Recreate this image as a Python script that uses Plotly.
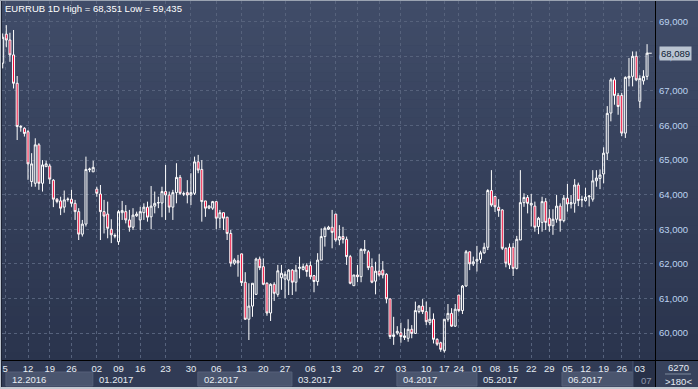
import plotly.graph_objects as go

# ---------------- data ----------------
opens = [67.80, 68.64, 68.47, 68.04, 67.22, 65.95, 65.92, 65.82, 64.38, 64.33,
         65.44, 64.33, 64.81, 64.83, 64.42, 63.87, 63.82, 63.64, 63.86, 63.87,
         63.75, 63.51, 62.86, 63.15, 64.72, 64.66, 64.16, 64.02, 63.51, 63.44,
         63.00, 62.80, 62.64, 63.48, 63.51, 63.27, 63.06, 63.39, 63.27, 63.48,
         63.64, 63.36, 63.67, 63.76, 63.76, 64.09, 63.99, 63.64, 64.06, 64.50,
         64.03, 64.06, 63.99, 64.04, 64.95, 64.73, 63.82, 63.61, 63.61, 63.80,
         63.32, 63.48, 63.35, 62.88, 62.02, 62.09, 62.29, 61.47, 60.40, 60.78,
         61.12, 62.14, 61.92, 61.44, 60.58, 61.41, 61.12, 61.60, 61.56, 61.53,
         61.82, 61.47, 61.87, 61.84, 61.95, 61.95, 61.66, 61.49, 62.11, 62.79,
         63.00, 63.06, 63.44, 62.69, 62.79, 62.71, 62.21, 61.37, 61.68, 61.63,
         62.38, 62.35, 61.92, 61.50, 61.79, 61.82, 61.70, 60.99, 59.90, 60.00,
         60.01, 59.87, 59.85, 60.11, 59.99, 60.62, 60.78, 60.62, 60.30, 60.40,
         59.82, 59.72, 59.49, 60.40, 60.57, 60.20, 61.10, 60.65, 61.36, 62.35,
         62.00, 62.08, 62.13, 62.32, 62.48, 64.12, 63.95, 63.64, 63.56, 62.45,
         62.48, 62.48, 61.87, 62.69, 63.77, 63.92, 63.70, 63.67, 63.08, 63.20,
         63.80, 63.32, 63.10, 63.29, 63.67, 63.25, 63.90, 63.73, 63.75, 64.28,
         63.86, 63.83, 63.94, 63.87, 64.40, 64.47, 64.60, 65.20, 66.36, 67.32,
         66.87, 66.87, 65.78, 67.37, 67.42, 68.00, 66.70, 67.29, 67.42]
highs = [68.66, 68.90, 68.68, 68.76, 67.43, 66.01, 65.95, 65.87, 65.20, 65.63,
         65.49, 65.00, 64.98, 64.89, 64.45, 63.90, 63.94, 64.12, 63.92, 64.14,
         63.85, 63.61, 63.27, 65.10, 64.78, 64.98, 64.23, 64.28, 63.85, 63.80,
         63.29, 62.88, 63.56, 63.82, 63.70, 63.56, 63.61, 63.51, 63.65, 63.75,
         63.80, 64.25, 64.09, 63.94, 64.23, 64.86, 64.09, 64.14, 64.91, 64.57,
         64.09, 64.42, 64.62, 65.10, 65.15, 65.00, 63.82, 63.70, 63.82, 63.80,
         63.56, 63.48, 63.36, 62.98, 62.16, 62.26, 62.29, 61.76, 61.44, 61.44,
         62.18, 62.21, 62.16, 61.47, 61.44, 61.47, 61.97, 61.97, 61.78, 61.85,
         61.85, 61.97, 62.21, 62.00, 62.02, 62.07, 61.68, 62.31, 63.03, 63.08,
         63.10, 63.56, 63.44, 63.12, 63.07, 62.79, 62.26, 61.68, 61.97, 62.45,
         62.69, 62.40, 62.16, 62.06, 62.28, 62.08, 61.73, 60.99, 60.47, 60.20,
         60.30, 60.14, 60.40, 60.23, 60.91, 60.81, 60.98, 60.91, 60.75, 60.57,
         59.85, 59.75, 60.40, 60.84, 60.72, 60.84, 61.10, 61.39, 62.40, 62.35,
         62.21, 62.52, 62.38, 62.61, 64.16, 64.71, 63.95, 63.87, 63.58, 62.48,
         62.59, 62.60, 62.81, 64.71, 64.04, 63.99, 64.02, 63.80, 63.36, 63.94,
         63.90, 63.58, 63.58, 63.99, 63.75, 63.99, 64.31, 63.99, 64.45, 64.35,
         63.97, 64.20, 63.99, 64.71, 64.71, 64.73, 65.37, 66.56, 67.37, 67.39,
         66.94, 66.94, 67.42, 67.95, 68.14, 68.14, 67.45, 67.60, 68.351]
lows = [67.65, 68.26, 67.84, 67.07, 65.58, 65.82, 65.68, 64.43, 64.23, 64.23,
        64.14, 64.09, 64.81, 64.31, 63.64, 63.75, 63.41, 63.48, 63.80, 63.65,
        63.27, 62.69, 62.79, 63.08, 64.65, 64.66, 63.94, 62.69, 62.88, 62.74,
        62.60, 62.74, 62.55, 63.27, 63.17, 62.93, 62.98, 63.36, 62.98, 63.27,
        63.22, 63.00, 63.46, 63.61, 63.35, 63.27, 63.48, 63.27, 63.75, 63.99,
        63.96, 63.75, 63.70, 63.99, 64.62, 63.22, 63.36, 63.58, 63.56, 63.00,
        63.03, 62.98, 62.69, 61.92, 61.97, 61.63, 61.36, 60.38, 59.80, 60.47,
        61.10, 61.82, 61.39, 60.50, 60.35, 60.93, 61.05, 61.25, 61.01, 61.10,
        61.10, 61.20, 61.58, 61.81, 61.63, 61.56, 61.18, 61.37, 62.11, 62.50,
        62.98, 62.45, 62.64, 62.54, 62.59, 61.97, 61.41, 61.37, 61.47, 61.47,
        62.29, 61.82, 61.44, 61.12, 61.63, 61.58, 60.86, 59.83, 59.66, 59.95,
        59.72, 59.80, 59.75, 59.85, 59.99, 60.57, 60.55, 60.23, 60.23, 59.70,
        59.63, 59.46, 59.435, 60.33, 60.18, 60.18, 60.60, 60.55, 61.34, 61.82,
        61.94, 61.78, 62.02, 62.29, 62.40, 63.65, 63.50, 63.36, 62.40, 61.90,
        61.85, 61.65, 61.84, 62.69, 63.65, 63.46, 63.08, 62.93, 62.86, 62.93,
        62.98, 62.93, 62.84, 63.19, 62.93, 63.20, 63.51, 63.60, 63.48, 63.67,
        63.64, 63.80, 63.66, 63.80, 64.23, 64.16, 64.33, 65.00, 66.12, 66.60,
        66.31, 65.69, 65.64, 67.13, 67.13, 67.28, 66.50, 67.18, 67.32]
closes = [68.55, 68.47, 68.04, 67.22, 65.97, 65.97, 65.77, 64.89, 64.89, 65.44,
          64.33, 64.86, 64.89, 64.45, 63.87, 63.80, 63.61, 63.85, 63.87, 63.75,
          63.51, 62.86, 63.15, 64.73, 64.74, 64.79, 64.04, 63.51, 63.38, 63.03,
          62.84, 62.82, 63.51, 63.54, 63.27, 63.06, 63.41, 63.44, 63.51, 63.64,
          63.35, 63.67, 63.75, 63.77, 64.09, 63.99, 63.64, 64.06, 64.50, 64.04,
          64.02, 63.99, 64.06, 64.95, 64.71, 63.80, 63.61, 63.67, 63.80, 63.32,
          63.48, 63.32, 62.88, 62.02, 62.11, 62.03, 61.46, 60.40, 60.78, 61.44,
          62.14, 61.89, 61.41, 60.58, 61.41, 61.15, 61.80, 61.73, 61.70, 61.82,
          61.47, 61.82, 61.90, 61.92, 61.78, 61.63, 61.49, 62.11, 62.79, 63.03,
          63.06, 62.91, 62.69, 62.79, 62.71, 62.21, 61.44, 61.68, 61.63, 62.42,
          62.42, 61.89, 61.47, 61.79, 61.68, 61.68, 60.99, 59.90, 59.95, 60.05,
          59.90, 59.92, 60.11, 59.99, 60.65, 60.78, 60.62, 60.33, 60.40, 59.82,
          59.68, 59.53, 60.40, 60.57, 60.20, 60.69, 60.65, 61.36, 62.35, 62.00,
          62.06, 62.13, 62.32, 62.48, 64.12, 63.70, 63.65, 63.54, 62.45, 62.02,
          61.97, 61.87, 62.71, 63.77, 63.92, 63.75, 63.75, 63.06, 63.32, 63.80,
          63.20, 63.10, 63.29, 63.67, 63.25, 63.90, 63.73, 63.77, 64.28, 63.83,
          63.85, 63.93, 63.96, 64.40, 64.48, 64.57, 65.20, 66.35, 67.32, 66.87,
          66.55, 65.78, 67.39, 67.42, 68.00, 67.32, 67.36, 67.42, 68.089]

week_tick_pos = [0.7, 7, 13, 19, 26, 32, 38, 45, 52, 59, 66, 72, 78, 85, 92, 98,
                 104, 110, 117, 122, 126, 131, 136, 141, 146, 151, 156, 161, 166, 171, 176]
week_tick_text = ["5", "12", "19", "26", "02", "09", "16", "23", "30", "06", "13",
                  "20", "27", "06", "13", "20", "27", "03", "10", "17", "24", "01",
                  "08", "15", "22", "29", "05", "12", "19", "26", "03"]
month_text = ["12.2016", "01.2017", "02.2017", "03.2017", "04.2017", "05.2017", "06.2017", "07"]
month_edges = [0.9, 24.9, 53.9, 79.9, 108.9, 131.0, 154.5, 174.1, 180.19]

title_text = "EURRUB 1D High = 68,351 Low = 59,435"
bars_text = ["6270", ">180<"]

x_range = [-0.19, 180.19]
y_range = [59.222, 69.598]

# ---------------- geometry helpers ----------------
W, H = 698, 389
ML, MR, MT, MB = 2, 43, 1, 29
PW = W - ML - MR
PH = H - MT - MB


def pxx(px):
    return (px - ML) / PW


def pxy(py):
    return (H - MB - py) / PH


def ipx(i):
    return (i - x_range[0]) / (x_range[1] - x_range[0])


FONT = "Liberation Sans"
n = len(closes)
xs = list(range(n))

fig = go.Figure()
fig.add_trace(go.Candlestick(
    x=xs, open=opens, high=highs, low=lows, close=closes,
    increasing=dict(line=dict(color="#ffffff", width=1), fillcolor="rgba(0,0,0,0)"),
    decreasing=dict(line=dict(color="#ffffff", width=1), fillcolor="#ee0030"),
    whiskerwidth=0, hoverinfo="skip", showlegend=False,
))
# close tick of the last bar
fig.add_trace(go.Scatter(
    x=[xs[-1], xs[-1] + 1.3], y=[closes[-1], closes[-1]], mode="lines",
    line=dict(color="#ffffff", width=1), hoverinfo="skip", showlegend=False,
    cliponaxis=False,
))
# pointer of the price tag
fig.add_trace(go.Scatter(
    x=[x_range[1] + 0.75], y=[closes[-1]], mode="markers",
    marker=dict(symbol="triangle-left", size=7, color="#b9c3d0"),
    hoverinfo="skip", showlegend=False, cliponaxis=False,
))

shapes = []
# vertical gradient background
top = (64, 76, 104)
bot = (42, 52, 77)
N = 40
y0px, y1px = 0, 361
for k in range(N):
    t = k / (N - 1)
    c = tuple(int(round(top[j] + (bot[j] - top[j]) * t)) for j in range(3))
    a = y0px + (y1px - y0px) * k / N
    b = y0px + (y1px - y0px) * (k + 1) / N
    shapes.append(dict(type="rect", xref="paper", yref="paper", layer="below",
                       x0=pxx(0), x1=pxx(W), y0=pxy(b + 0.5), y1=pxy(a),
                       fillcolor="rgb(%d,%d,%d)" % c, line=dict(width=0)))
# bottom strip
shapes.append(dict(type="rect", xref="paper", yref="paper", layer="below",
                   x0=pxx(0), x1=pxx(W), y0=pxy(H), y1=pxy(360),
                   fillcolor="#313b55", line=dict(width=0)))
# month boxes
for k in range(len(month_text)):
    if k % 2 == 0 and k < 7:
        shapes.append(dict(type="rect", xref="paper", yref="paper", layer="below",
                           x0=ipx(month_edges[k]), x1=ipx(month_edges[k + 1]),
                           y0=pxy(386), y1=pxy(372),
                           fillcolor="#4a556e", line=dict(color="#56617a", width=1)))
# dark zone for the running month
shapes.append(dict(type="rect", xref="paper", yref="paper", layer="below",
                   x0=ipx(month_edges[7]), x1=pxx(655), y0=pxy(387), y1=pxy(361),
                   fillcolor="#283148", line=dict(width=0)))
shapes.append(dict(type="line", xref="paper", yref="paper", layer="below",
                   x0=ipx(month_edges[7]), x1=ipx(month_edges[7]), y0=pxy(387), y1=pxy(361),
                   line=dict(color="#4a5570", width=1)))
# bottom-right panel
shapes.append(dict(type="rect", xref="paper", yref="paper", layer="below",
                   x0=pxx(655), x1=pxx(W), y0=pxy(387), y1=pxy(361),
                   fillcolor="#37425c", line=dict(width=0)))
shapes.append(dict(type="line", xref="paper", yref="paper",
                   x0=pxx(665), x1=pxx(691), y0=pxy(374), y1=pxy(374),
                   line=dict(color="#7d889b", width=1)))
# axis lines
shapes.append(dict(type="line", xref="paper", yref="paper",
                   x0=pxx(0), x1=pxx(W), y0=pxy(360.5), y1=pxy(360.5),
                   line=dict(color="#000000", width=1)))
shapes.append(dict(type="line", xref="paper", yref="paper",
                   x0=pxx(655.5), x1=pxx(655.5), y0=pxy(H), y1=pxy(0),
                   line=dict(color="#000000", width=1)))
# frame
shapes.append(dict(type="rect", xref="paper", yref="paper",
                   x0=pxx(0), x1=pxx(1), y0=pxy(H), y1=pxy(0),
                   fillcolor="#b9c0ca", line=dict(width=0)))
shapes.append(dict(type="rect", xref="paper", yref="paper",
                   x0=pxx(1), x1=pxx(2), y0=pxy(387), y1=pxy(1),
                   fillcolor="#1c2233", line=dict(width=0)))
shapes.append(dict(type="rect", xref="paper", yref="paper",
                   x0=pxx(0), x1=pxx(W), y0=pxy(1), y1=pxy(0),
                   fillcolor="#9aa3b1", line=dict(width=0)))
shapes.append(dict(type="rect", xref="paper", yref="paper",
                   x0=pxx(0), x1=pxx(W), y0=pxy(H), y1=pxy(387),
                   fillcolor="#c3c9d1", line=dict(width=0)))

annotations = []
annotations.append(dict(text=title_text, xref="paper", yref="paper",
                        x=pxx(3), y=pxy(8), xanchor="left", yanchor="middle",
                        showarrow=False, font=dict(family=FONT, size=9.5, color="#ffffff")))
for k, txt in enumerate(month_text):
    if k < 7:
        annotations.append(dict(text=txt, xref="x", yref="paper", x=month_edges[k],
                                y=pxy(379.5), xanchor="left", yanchor="middle", xshift=4,
                                showarrow=False,
                                font=dict(family=FONT, size=9.5, color="#e6ecf3")))
    else:
        annotations.append(dict(text=txt, xref="paper", yref="paper", x=pxx(654),
                                y=pxy(380), xanchor="right", yanchor="middle",
                                showarrow=False,
                                font=dict(family=FONT, size=9.5, color="#8d97aa")))
annotations.append(dict(text=bars_text[0], xref="paper", yref="paper", x=pxx(678),
                        y=pxy(367), xanchor="center", yanchor="middle", showarrow=False,
                        font=dict(family=FONT, size=9.5, color="#e6ecf3")))
annotations.append(dict(text=bars_text[1], xref="paper", yref="paper", x=pxx(678),
                        y=pxy(381), xanchor="center", yanchor="middle", showarrow=False,
                        font=dict(family=FONT, size=9.5, color="#e6ecf3")))
# last price tag
annotations.append(dict(text=("%.3f" % closes[-1]).replace(".", ","), xref="paper", yref="y",
                        x=pxx(659), y=closes[-1], xanchor="left", yanchor="middle",
                        showarrow=False, bgcolor="#b9c3d0", borderpad=1,
                        font=dict(family=FONT, size=9.5, color="#0d1a33")))

grid_col = "#56627c"
fig.update_layout(
    width=W, height=H,
    margin=dict(l=ML, r=MR, t=MT, b=MB, pad=0),
    paper_bgcolor="#2f3953",
    plot_bgcolor="rgba(0,0,0,0)",
    separators=", ",
    showlegend=False,
    hovermode=False,
    boxgap=0.22,
    shapes=shapes,
    annotations=annotations,
    xaxis=dict(range=x_range, tickmode="array", tickvals=week_tick_pos,
               ticktext=week_tick_text, showgrid=True, gridcolor=grid_col,
               griddash="3px,3px", gridwidth=1, zeroline=False, showline=False,
               ticks="", ticklabelstandoff=1, ticklabeloverflow="allow",
               tickfont=dict(family=FONT, size=9.5, color="#e6ecf3"),
               rangeslider=dict(visible=False), fixedrange=True),
    yaxis=dict(range=y_range, side="right", tickmode="linear", tick0=60, dtick=1,
               tickformat=".3f", showgrid=True, gridcolor=grid_col,
               griddash="3px,3px", gridwidth=1, zeroline=False, showline=False,
               ticks="", ticklabelstandoff=3,
               tickfont=dict(family=FONT, size=9.5, color="#bcd3f0"),
               fixedrange=True),
)

fig.write_html("out.html", config={"displayModeBar": False, "staticPlot": True},
               post_script="document.body.style.margin='0';document.body.style.overflow='hidden';")
